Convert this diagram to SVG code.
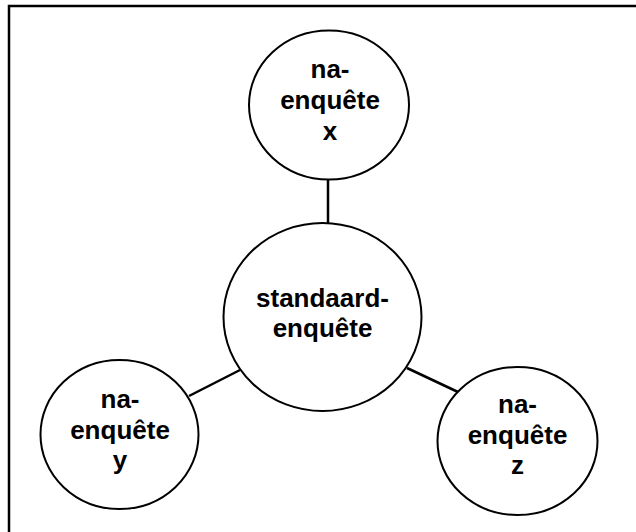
<svg xmlns="http://www.w3.org/2000/svg" width="636" height="532" viewBox="0 0 636 532">
<style>
.node{fill:#fff;stroke:#000;stroke-width:2}
.lbl{font-family:"Liberation Sans",Arial,sans-serif;font-weight:bold;font-size:26px;text-anchor:middle;fill:#000}
.conn line{stroke:#000;stroke-width:2.5}
</style>
<rect x="9" y="6" width="700" height="600" fill="#fff" stroke="#000" stroke-width="2.5"/>
<g id="connectors" class="conn">
<line x1="328" y1="179" x2="328" y2="223"/>
<line x1="240" y1="370" x2="189" y2="396"/>
<line x1="407" y1="368" x2="458" y2="392"/>
</g>
<g id="node-x">
<ellipse class="node" cx="329" cy="105" rx="80" ry="74.5"/>
<text class="lbl" x="330" y="78">na-</text>
<text class="lbl" x="330" y="109">enquête</text>
<text class="lbl" x="330" y="140">x</text>
</g>
<g id="node-standaard">
<ellipse class="node" cx="322.5" cy="317" rx="99" ry="94"/>
<text class="lbl" x="322.5" y="307">standaard-</text>
<text class="lbl" x="322.5" y="337">enquête</text>
</g>
<g id="node-y">
<ellipse class="node" cx="119.5" cy="434.5" rx="79" ry="74.5"/>
<text class="lbl" x="120" y="408">na-</text>
<text class="lbl" x="120" y="439">enquête</text>
<text class="lbl" x="120" y="469">y</text>
</g>
<g id="node-z">
<ellipse class="node" cx="517.5" cy="441" rx="80" ry="74"/>
<text class="lbl" x="517.5" y="413">na-</text>
<text class="lbl" x="517.5" y="444">enquête</text>
<text class="lbl" x="517.5" y="474">z</text>
</g>
</svg>
